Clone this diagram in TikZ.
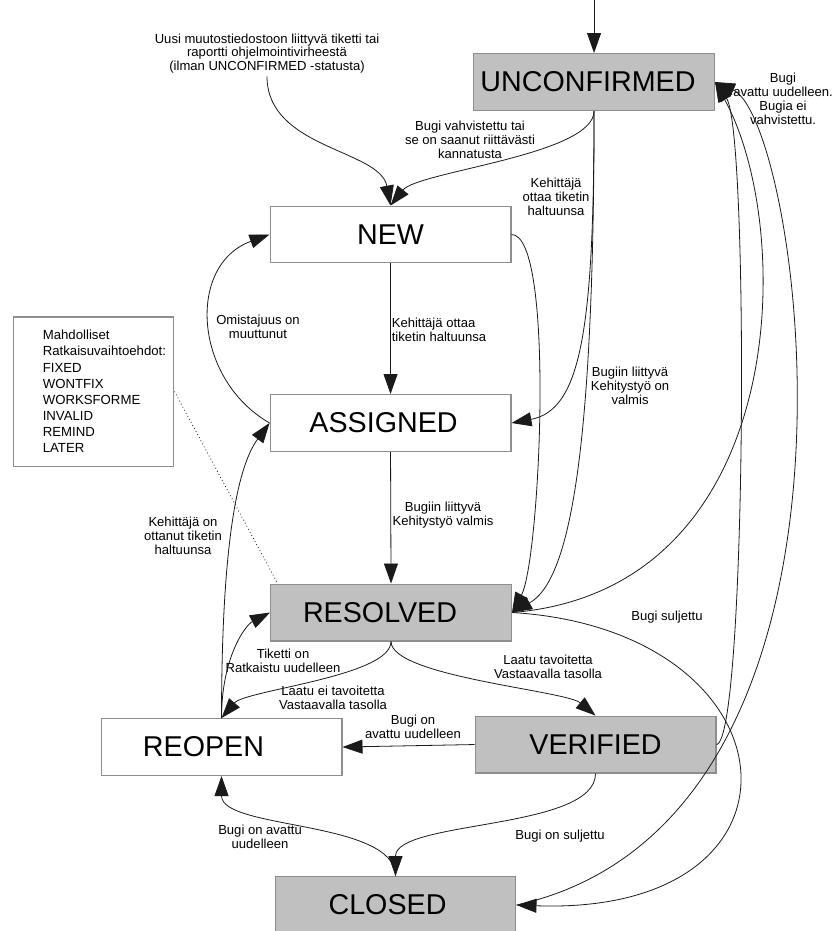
\documentclass[tikz,border=0pt]{standalone}
\usepackage{fontspec}
\setmainfont{Liberation Sans}
\usepackage{xcolor}
\definecolor{bugzgray}{HTML}{C0C0C0}
\definecolor{bugzedge}{HTML}{8E8E8E}
\definecolor{bugzline}{HTML}{1A1A1A}
\usepackage{tikz}
\usetikzlibrary{arrows.meta, positioning}
\tikzset{
  statebox/.style={rectangle, draw=bugzedge, line width=0.8pt, minimum width=6.35cm,
    minimum height=1.5cm, inner sep=0pt, font=\fontsize{21.5}{24}\selectfont},
  graystate/.style={statebox, fill=bugzgray},
  whitestate/.style={statebox, fill=white},
  textleft/.style={execute at begin node={\hspace*{-#1}}},
  lbl/.style={align=center, inner sep=2pt, font=\fontsize{9.8}{10.4}\selectfont},
  arr/.style={draw=bugzline, line width=0.6pt, -{Triangle[length=15pt,width=10.5pt]}}
}
\begin{document}
\begin{tikzpicture}
\useasboundingbox (0,0) rectangle (21.93,-24.54);

\node[graystate, textleft=0.32cm] (unconf) at (15.658,-2.162) {UNCONFIRMED};
\node[whitestate] (new) at (10.294,-6.181) {NEW};
\node[whitestate, textleft=0.37cm] (assigned) at (10.294,-11.150) {ASSIGNED};
\node[graystate, textleft=0.58cm] (resolved) at (10.307,-16.145) {RESOLVED};
\node[whitestate, textleft=0.95cm] (reopen) at (5.839,-19.691) {REOPEN};
\node[graystate] (verified) at (15.697,-19.625) {VERIFIED};
\node[graystate, textleft=0.42cm] (closed) at (10.425,-23.856) {CLOSED};

\node[lbl] (annot) at (7.038,-1.410)
  {Uusi muutostiedostoon liittyvä tiketti tai\\ raportti ohjelmointivirheestä\\ (ilman UNCONFIRMED -statusta)};

\node[rectangle, draw=bugzedge, line width=0.8pt, minimum width=4.24cm,
      minimum height=3.93cm] (legend) at (2.465,-10.320) {};
\node[right=0.79cm of legend.west, inner sep=0pt, align=left,
      font=\fontsize{9.9}{12.1}\selectfont] (legendtxt)
  {Mahdolliset\\ Ratkaisuvaihtoehdot:\\ FIXED\\ WONTFIX\\ WORKSFORME\\ INVALID\\ REMIND\\ LATER};

\node[lbl] (lconfirm) at (12.389,-3.690) {Bugi vahvistettu tai\\ se on saanut riittävästi\\ kannatusta};
\node[lbl] (ltake1) at (14.656,-5.193) {Kehittäjä\\ ottaa tiketin\\ haltuunsa};
\node[lbl] (lowner) at (6.801,-8.620) {Omistajuus on\\ muuttunut};
\node[lbl, anchor=west, align=left] (ltake2) at (10.25,-8.70) {Kehittäjä ottaa\\ tiketin haltuunsa};
\node[lbl] (ldone1) at (16.607,-10.175) {Bugiin liittyvä\\ Kehitystyö on\\ valmis};
\node[lbl] (ldone2) at (11.677,-13.575) {Bugiin liittyvä\\ Kehitystyö valmis};
\node[lbl] (ltake3) at (4.824,-14.129) {Kehittäjä on\\ ottanut tiketin\\ haltuunsa};
\node[lbl] (lunconf) at (20.640,-2.610) {Bugi\\ avattu uudelleen.\\ Bugia ei\\ vahvistettu.};
\node[lbl] (lclosed1) at (17.582,-16.264) {Bugi suljettu};
\node[lbl] (lresolve) at (7.460,-17.424) {Tiketti on\\ Ratkaistu uudelleen};
\node[lbl] (lnoqual) at (8.778,-18.399) {Laatu ei tavoitetta\\ Vastaavalla tasolla};
\node[lbl] (lqual) at (14.445,-17.582) {Laatu tavoitetta\\ Vastaavalla tasolla};
\node[lbl] (lreopen1) at (10.887,-19.164) {Bugi on\\ avattu uudelleen};
\node[lbl] (lreopen2) at (6.854,-22.063) {Bugi on avattu\\ uudelleen};
\node[lbl] (lclosed2) at (14.762,-22.037) {Bugi on suljettu};

\coordinate (entry) at (15.658,0);
\draw[arr] (entry) -- (unconf.north);
\draw[arr] (annot.south) .. controls +(0,-1.91) and +(-0.28,1.48) .. (new.north);
\draw[arr] (unconf.south) .. controls +(0,-1.16) and +(0.72,0.90) .. (new.north);
\draw[arr] (unconf.south) .. controls +(0,-5.80) and +(1.82,0.34) .. (assigned.east);
\draw[arr] (unconf.south) .. controls +(0,-8.96) and +(1.53,0.84) .. (resolved.east);
\draw[arr] (new.east) .. controls +(1.16,0) and +(0.74,1.37) .. (resolved.east);
\draw[arr] (new.south) -- (assigned.north);
\draw[arr] (assigned.west) to[out=150, in=200, looseness=1.2] (new.west);
\draw[arr] (assigned.south) -- (resolved.north);
\draw[arr] (reopen.north) .. controls +(0,4.16) and +(-0.92,-1.24) .. (assigned.west);
\draw[arr] (reopen.north) .. controls +(0,1.58) and +(-0.66,-0.34) .. (resolved.west);
\draw[arr] (resolved.south) .. controls +(0,-0.92) and +(0.63,0.74) .. (reopen.north);
\draw[arr] (resolved.south) .. controls +(0,-0.92) and +(-0.79,0.66) .. (verified.north);
\draw[arr] (resolved.east) .. controls +(7.33,0.59) and +(2.14,-3.90) .. (unconf.east);
\draw[arr] (resolved.east) .. controls +(7.59,-0.46) and +(8.15,-0.29) .. (closed.east);
\draw[arr] (verified.east) .. controls +(0.79,0.12) and +(0.90,-1.27) .. (unconf.east);
\draw[arr] (closed.east) .. controls +(10.12,2.24) and +(2.27,-1.00) .. (unconf.east);
\draw[arr] (verified.west) -- (reopen.east);
\draw[arr] (verified.south) .. controls +(0,-1.50) and +(0,1.48) .. (closed.north);
\draw[arr] (closed.north) .. controls +(0,1.48) and +(0,-1.42) .. (reopen.south);
\draw[bugzline, line width=0.6pt, dotted] (legend.east) -- ([xshift=0.2cm]resolved.north west);
\end{tikzpicture}
\end{document}
